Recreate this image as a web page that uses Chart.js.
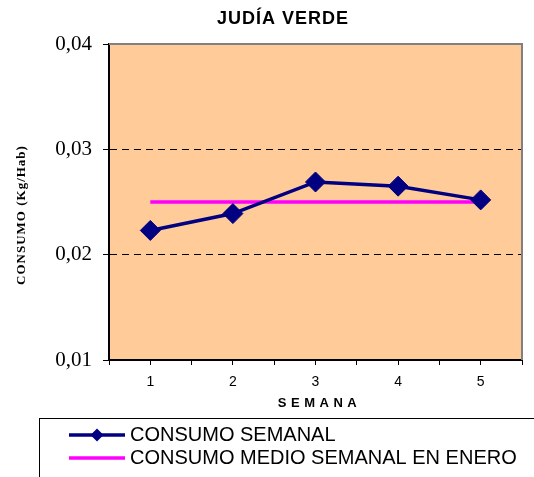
<!DOCTYPE html>
<html>
<head>
<meta charset="utf-8">
<script src="https://cdn.jsdelivr.net/npm/chart.js@4"></script>
<style>
  body { margin: 0; background: #fff; }
</style>
</head>
<body>
<canvas id="myChart" width="534" height="477"></canvas>
<script>
const semanas = [1, 2, 3, 4, 5];
const consumoSemanal = [0.0223, 0.0239, 0.0269, 0.0265, 0.0252];
const consumoMedio = [0.025, 0.025, 0.025, 0.025, 0.025];
const yTicks = [0.01, 0.02, 0.03, 0.04];

const tituloGrafico = 'JUDÍA VERDE';
const tituloY = 'CONSUMO (Kg/Hab)';
const tituloX = 'SEMANA';

const sans = '"Liberation Sans", Arial, sans-serif';
const serif = '"Liberation Serif", "Times New Roman", serif';

// fondo naranja y marco gris del area de trazado
const fondo = {
  id: 'fondo',
  beforeDraw(chart) {
    const { ctx, chartArea: a } = chart;
    ctx.save();
    ctx.fillStyle = '#FFCC99';
    ctx.fillRect(a.left, a.top, a.right - a.left, a.bottom - a.top);
    ctx.restore();
  },
  beforeDatasetsDraw(chart) {
    const { ctx, chartArea: a } = chart;
    ctx.save();
    ctx.strokeStyle = '#808080';
    ctx.lineWidth = 2;
    ctx.beginPath();
    ctx.moveTo(a.left, a.top);
    ctx.lineTo(a.right, a.top);
    ctx.lineTo(a.right, a.bottom);
    ctx.stroke();
    ctx.restore();
  }
};

// titulos y leyenda a la manera de Excel
const textos = {
  id: 'textos',
  afterDraw(chart) {
    const { ctx, chartArea: a } = chart;
    ctx.save();
    ctx.fillStyle = '#000';
    ctx.textBaseline = 'middle';
    ctx.textAlign = 'center';

    ctx.font = 'bold 18px ' + sans;
    ctx.letterSpacing = '1px';
    ctx.fillText(tituloGrafico, 283, 19);

    ctx.font = 'bold 13px ' + sans;
    ctx.letterSpacing = '4.5px';
    ctx.fillText(tituloX, (a.left + a.right) / 2 + 4, 403);
    ctx.letterSpacing = '0px';

    ctx.save();
    ctx.translate(22, 215);
    ctx.rotate(-Math.PI / 2);
    ctx.font = 'bold 13px ' + serif;
    ctx.letterSpacing = '1px';
    ctx.fillText(tituloY, 0, 0);
    ctx.restore();
    ctx.letterSpacing = '0px';

    // caja de la leyenda
    ctx.strokeStyle = '#000';
    ctx.lineWidth = 1;
    ctx.strokeRect(39.5, 418.5, 600, 100);

    const ds = chart.data.datasets;
    const filas = [435, 458];
    ctx.textAlign = 'left';
    ctx.font = '20px ' + sans;
    ds.forEach((d, i) => {
      const y = filas[i];
      ctx.strokeStyle = d.borderColor;
      ctx.lineWidth = 3.5;
      ctx.beginPath();
      ctx.moveTo(69, y);
      ctx.lineTo(125, y);
      ctx.stroke();
      if (d.pointRadius > 0) {
        ctx.fillStyle = d.pointBackgroundColor;
        ctx.beginPath();
        ctx.moveTo(97, y - 6.5);
        ctx.lineTo(103.5, y);
        ctx.lineTo(97, y + 6.5);
        ctx.lineTo(90.5, y);
        ctx.closePath();
        ctx.fill();
      }
      ctx.fillStyle = '#000';
      ctx.fillText(d.label, 130, y);
    });
    ctx.restore();
  }
};

const ctx = document.getElementById('myChart');

new Chart(ctx, {
  type: 'line',
  data: {
    datasets: [
      {
        label: 'CONSUMO SEMANAL',
        data: semanas.map((s, i) => ({ x: s, y: consumoSemanal[i] })),
        borderColor: '#000080',
        borderWidth: 3.5,
        pointStyle: 'rectRot',
        pointRadius: 10,
        pointBorderWidth: 1,
        pointBackgroundColor: '#000080',
        pointBorderColor: '#000080',
        tension: 0
      },
      {
        label: 'CONSUMO MEDIO SEMANAL EN ENERO',
        data: semanas.map((s, i) => ({ x: s, y: consumoMedio[i] })),
        borderColor: '#FF00FF',
        borderWidth: 3.5,
        pointRadius: 0,
        tension: 0
      }
    ]
  },
  options: {
    responsive: false,
    animation: false,
    devicePixelRatio: 1,
    layout: { padding: { top: 44, right: 12, left: 0, bottom: 0 } },
    plugins: {
      legend: { display: false },
      title: { display: false },
      tooltip: { enabled: false }
    },
    scales: {
      x: {
        type: 'linear',
        min: semanas[0] - 0.5,
        max: semanas[semanas.length - 1] + 0.5,
        afterBuildTicks(scale) {
          const t = [];
          for (let v = scale.min; v <= scale.max + 1e-9; v += 0.5) t.push({ value: v });
          scale.ticks = t;
        },
        afterFit(scale) { scale.height = 117; },
        grid: {
          drawOnChartArea: false,
          drawTicks: true,
          tickLength: 5,
          tickColor: '#000',
          tickWidth: 1
        },
        border: { color: '#000', width: 2 },
        ticks: {
          padding: 9,
          color: '#000',
          font: { family: sans, size: 14 },
          maxRotation: 0,
          autoSkip: false,
          callback: v => (Number.isInteger(v) ? String(v) : '')
        }
      },
      y: {
        min: yTicks[0],
        max: yTicks[yTicks.length - 1],
        afterBuildTicks(scale) {
          scale.ticks = yTicks.map(v => ({ value: v }));
        },
        afterFit(scale) { scale.width = 109; },
        grid: {
          color: c => (c.index > 0 && c.index < yTicks.length - 1 ? '#000' : 'rgba(0,0,0,0)'),
          lineWidth: 1,
          tickLength: 6,
          tickColor: '#000',
          tickWidth: 1
        },
        border: { color: '#000', width: 2, dash: [7, 5] },
        ticks: {
          padding: 11,
          color: '#000',
          font: { family: serif, size: 21 },
          callback: v => v.toFixed(2).replace('.', ',')
        }
      }
    }
  },
  plugins: [fondo, textos]
});
</script>
</body>
</html>
